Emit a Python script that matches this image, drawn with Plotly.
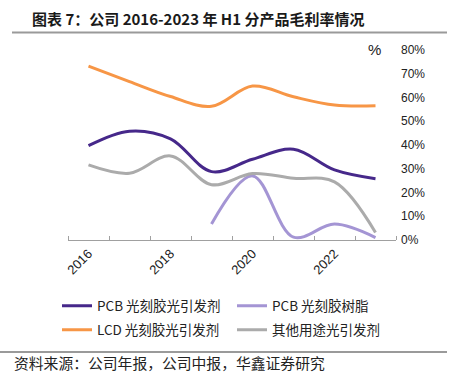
import plotly.graph_objects as go

categories = ["2016", "2017", "2018", "2019", "2020", "2021", "2022", "2023H1"]
tick_labels = ["2016", "2018", "2020", "2022"]
pcb_initiator = [39.7, 45.8, 42.6, 28.8, 34.0, 38.2, 29.5, 25.8]
pcb_resin = [None, None, None, 6.7, 27.0, 1.2, 6.7, 1.0]
lcd_initiator = [73.2, 66.7, 60.4, 56.3, 64.8, 60.3, 56.8, 56.5]
other_initiator = [31.6, 28.1, 35.4, 23.3, 28.0, 26.0, 24.5, 3.2]

series_names = ["PCB 光刻胶光引发剂", "PCB 光刻胶树脂", "LCD 光刻胶光引发剂", "其他用途光引发剂"]
series_values = [pcb_initiator, pcb_resin, lcd_initiator, other_initiator]
colors = ["#46288A", "#A495D4", "#F79646", "#ABABAB"]
legend_rows = ["legend", "legend", "legend2", "legend2"]

W, H = 452, 384
L, R, T, B = 68, 396, 50, 240
pw, ph = R - L, B - T


def px(x):
    return (x - L) / pw


def py(y):
    return (B - y) / ph


xs = list(range(len(categories)))

fig = go.Figure()
for name, vals, col, lg in zip(series_names, series_values, colors, legend_rows):
    fig.add_trace(go.Scatter(
        x=xs, y=vals, name=name, mode="lines",
        line=dict(color=col, width=3, shape="spline", smoothing=1.0),
        connectgaps=False, legend=lg,
    ))

cjk = "Noto Sans CJK SC"


def legend_row(y_center):
    return dict(
        orientation="h",
        x=px(57), y=py(y_center), xanchor="left", yanchor="middle",
        font=dict(family=cjk, size=13.5, color="#222222"),
        entrywidth=130, entrywidthmode="pixels",
        itemwidth=30,
        bgcolor="rgba(0,0,0,0)",
    )


fig.update_layout(
    width=W, height=H,
    margin=dict(l=L, r=W - R, t=T, b=H - B, pad=0, autoexpand=False),
    paper_bgcolor="white", plot_bgcolor="white",
    font=dict(family="Liberation Sans, Arial", color="#222222", size=12),
    title=dict(
        text="<b>图表 7：公司 2016-2023 年 H1 分产品毛利率情况</b>",
        font=dict(family=cjk, size=15, color="#1a1a1a"),
        xref="container", yref="container",
        x=32 / W, y=1 - 20 / H, xanchor="left", yanchor="middle",
    ),
    showlegend=True,
    legend=legend_row(306),
    legend2=legend_row(330),
    xaxis=dict(
        range=[-0.5, len(categories) - 0.5],
        tickmode="array",
        tickvals=[categories.index(t) for t in tick_labels],
        ticktext=tick_labels,
        tickangle=-45,
        ticks="",
        showgrid=False, zeroline=False,
        showline=True, linecolor="#A0A0A0", linewidth=1,
        tickfont=dict(size=13, color="#222222"),
        minor=dict(
            ticks="inside", ticklen=4, tickcolor="#A0A0A0", tickwidth=1,
            tickmode="array",
            tickvals=[i - 0.5 for i in range(len(categories) + 1)],
            showgrid=False,
        ),
    ),
    yaxis=dict(
        range=[0, 80], dtick=10, side="right",
        ticksuffix="%",
        showgrid=False, zeroline=False, showline=False,
        ticks="", ticklabelstandoff=4,
        tickfont=dict(size=12, color="#222222"),
    ),
    annotations=[
        dict(text="%", xref="paper", yref="paper", x=px(374), y=py(49),
             xanchor="center", yanchor="middle", showarrow=False,
             font=dict(size=15, color="#222222")),
        dict(text="资料来源：公司年报，公司中报，华鑫证券研究", xref="paper", yref="paper",
             x=px(12), y=py(362), xanchor="left", yanchor="middle", showarrow=False,
             font=dict(family=cjk, size=14.8, color="#222222")),
    ],
    shapes=[
        dict(type="line", xref="paper", yref="paper", x0=px(12), x1=px(447),
             y0=py(32.5), y1=py(32.5), line=dict(color="#9A9A9A", width=2)),
        dict(type="line", xref="paper", yref="paper", x0=px(0), x1=px(447),
             y0=py(352), y1=py(352), line=dict(color="#9A9A9A", width=2)),
    ],
)

fig.write_html("out.html", config={"displayModeBar": False},
               post_script="document.body.style.margin='0';")
